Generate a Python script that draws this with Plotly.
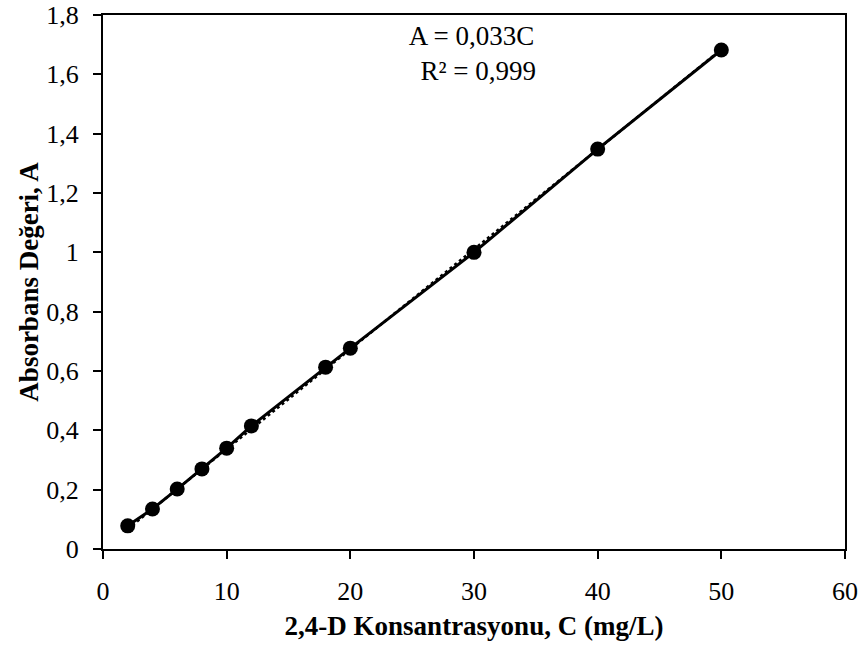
import plotly.graph_objects as go
import numpy as np

conc = [2, 4, 6, 8, 10, 12, 18, 20, 30, 40, 50]
absorb = [0.078, 0.135, 0.202, 0.270, 0.340, 0.415, 0.613, 0.677, 1.000, 1.348, 1.682]
x_ticks = [0, 10, 20, 30, 40, 50, 60]
y_ticks = [0, 0.2, 0.4, 0.6, 0.8, 1.0, 1.2, 1.4, 1.6, 1.8]
y_labels = ["0", "0,2", "0,4", "0,6", "0,8", "1", "1,2", "1,4", "1,6", "1,8"]
x_labels = ["0", "10", "20", "30", "40", "50", "60"]

# linear fit through origin
xa = np.array(conc, dtype=float)
ya = np.array(absorb, dtype=float)
slope = float((xa * ya).sum() / (xa * xa).sum())
fit_x = [min(conc), max(conc)]
fit_y = [slope * v for v in fit_x]

font = "Liberation Serif, Times New Roman, serif"

fig = go.Figure()
fig.add_trace(go.Scatter(x=fit_x, y=fit_y, mode="lines",
                         line=dict(color="black", width=2.5, dash="dot"),
                         showlegend=False, hoverinfo="skip"))
fig.add_trace(go.Scatter(x=conc, y=absorb, mode="lines+markers",
                         line=dict(color="black", width=3),
                         marker=dict(color="black", size=15),
                         showlegend=False))

fig.add_annotation(x=(471 - 103) / 742, y=1.0, xref="paper", yref="paper", yshift=-4,
                   text="A = 0,033C<br>  R² = 0,999", showarrow=False,
                   xanchor="center", yanchor="top", align="center",
                   font=dict(family=font, size=27, color="black"))

axis_common = dict(showgrid=False, zeroline=False, automargin=False,
                   showline=True, linecolor="black", linewidth=2, mirror=True,
                   ticks="outside", ticklen=8, tickwidth=2, tickcolor="black",
                   ticklabeloverflow="allow",
                   tickfont=dict(family=font, size=26, color="black"))

fig.update_layout(
    width=864, height=650,
    margin=dict(l=103, r=19, t=15, b=101),
    plot_bgcolor="white", paper_bgcolor="white",
    font=dict(family=font, size=26, color="black"),
    xaxis=dict(range=[0, 60], tickvals=x_ticks, ticktext=x_labels,
               ticklabelstandoff=10,
               title=dict(text="<b>2,4-D Konsantrasyonu, C (mg/L)</b>",
                          font=dict(family=font, size=27), standoff=11),
               **axis_common),
    yaxis=dict(range=[0, 1.8], tickvals=y_ticks, ticktext=y_labels,
               ticklabelstandoff=9,
               title=dict(text="<b>Absorbans Değeri, A</b>",
                          font=dict(family=font, size=27), standoff=0),
               **axis_common),
)

fig.write_html("out.html", config={"displayModeBar": False},
               post_script="document.body.style.margin='0px';document.body.style.overflow='hidden';")
